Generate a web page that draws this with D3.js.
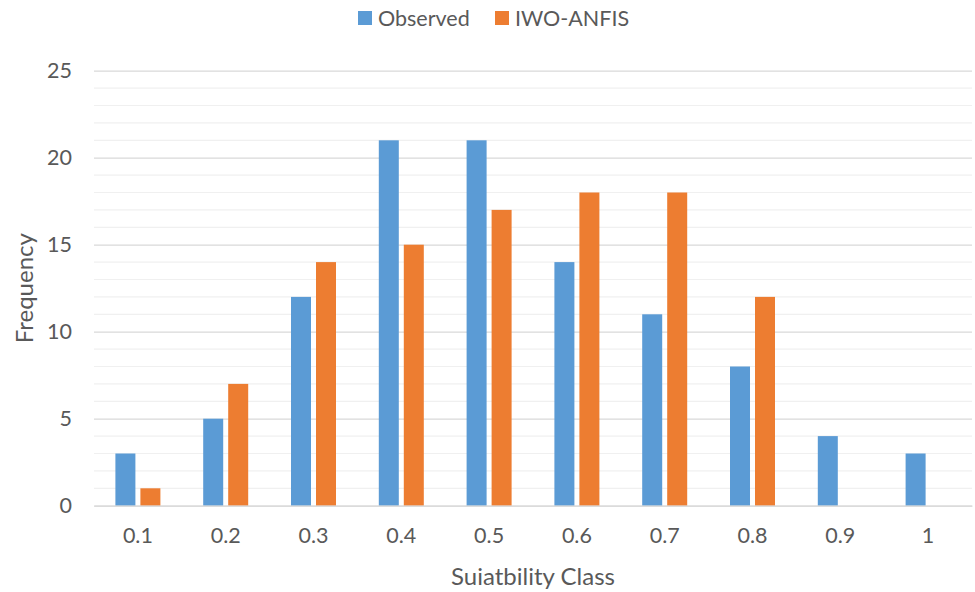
<!DOCTYPE html>
<html>
<head>
<meta charset="utf-8">
<script src="https://cdn.jsdelivr.net/npm/d3@7"></script>
<style>
  body { margin: 0; background: #fff; }
  text { font-family: Lato, "Open Sans", sans-serif; fill: #595959; }
</style>
</head>
<body>
<script>
// chart data
var categories = ["0.1", "0.2", "0.3", "0.4", "0.5", "0.6", "0.7", "0.8", "0.9", "1"];
var seriesNames = ["Observed", "IWO-ANFIS"];
var observed = [3, 5, 12, 21, 21, 14, 11, 8, 4, 3];
var iwoAnfis = [1, 7, 14, 15, 17, 18, 18, 12, 0, 0];
var yTicks = [0, 5, 10, 15, 20, 25];
var colors = ["#5b9bd5", "#ed7d31"];

var w = 975, h = 592;
var plotLeft = 94, plotRight = 972, plotTop = 70.7, plotBottom = 505.7;

var svg = d3.select("body").append("svg")
    .attr("width", w)
    .attr("height", h);

var xScale = d3.scaleBand()
    .domain(categories)
    .range([plotLeft, plotRight]);

var groupW = 45;
var xInner = d3.scaleBand()
    .domain(seriesNames)
    .range([0, groupW])
    .paddingInner(0.2);

var yScale = d3.scaleLinear()
    .domain([0, 25])
    .range([plotBottom, plotTop]);

// minor gridlines
svg.append("g").selectAll("line")
    .data(d3.range(0, 26).filter(function(d) { return d % 5 !== 0; }))
    .enter().append("line")
    .attr("x1", plotLeft).attr("x2", plotRight)
    .attr("y1", function(d) { return yScale(d); })
    .attr("y2", function(d) { return yScale(d); })
    .attr("stroke", "#f0f0f0")
    .attr("stroke-width", 1.2);

// major gridlines
var yAxis = d3.axisLeft(yScale)
    .tickValues(yTicks)
    .tickSize(-(plotRight - plotLeft))
    .tickPadding(22);

svg.append("g")
    .attr("transform", "translate(" + plotLeft + ",0)")
    .call(yAxis)
    .call(function(g) {
        g.select(".domain").remove();
        g.selectAll(".tick line").attr("stroke", "#d9d9d9").attr("stroke-width", 1.3);
        g.selectAll(".tick text").style("font-size", "21.5px").attr("fill", "#595959");
    });

// bars
var data = categories.map(function(c, i) {
    return { cat: c, values: [
        { name: seriesNames[0], v: observed[i] },
        { name: seriesNames[1], v: iwoAnfis[i] }
    ] };
});

var groups = svg.append("g").selectAll("g")
    .data(data)
    .enter().append("g")
    .attr("transform", function(d) {
        return "translate(" + (xScale(d.cat) + (xScale.bandwidth() - groupW) / 2) + ",0)";
    });

groups.selectAll("rect")
    .data(function(d) { return d.values.filter(function(s) { return s.v > 0; }); })
    .enter().append("rect")
    .attr("x", function(d) { return xInner(d.name); })
    .attr("width", xInner.bandwidth())
    .attr("y", function(d) { return yScale(d.v); })
    .attr("height", function(d) { return yScale(0) - yScale(d.v); })
    .attr("fill", function(d) { return colors[seriesNames.indexOf(d.name)]; });

// x axis
var xAxis = d3.axisBottom(xScale).tickSize(0).tickPadding(22);
svg.append("g")
    .attr("transform", "translate(0," + plotBottom + ")")
    .call(xAxis)
    .call(function(g) {
        g.select(".domain").attr("stroke", "#d9d9d9").attr("stroke-width", 1.3);
        g.selectAll(".tick text").style("font-size", "21.5px").attr("fill", "#595959");
    });

// axis titles
svg.append("text")
    .attr("x", (plotLeft + plotRight) / 2)
    .attr("y", 585)
    .attr("text-anchor", "middle")
    .style("font-size", "24px")
    .text("Suiatbility Class");

svg.append("text")
    .attr("transform", "translate(33," + ((plotTop + plotBottom) / 2) + ") rotate(-90)")
    .attr("text-anchor", "middle")
    .style("font-size", "24px")
    .text("Frequency");

// legend
var legendX = [358, 495];
var legend = svg.append("g").selectAll("g")
    .data(seriesNames)
    .enter().append("g")
    .attr("transform", function(d, i) { return "translate(" + legendX[i] + ",11)"; });

legend.append("rect")
    .attr("width", 14).attr("height", 14)
    .attr("fill", function(d, i) { return colors[i]; });

legend.append("text")
    .attr("x", 20).attr("y", 14.5)
    .style("font-size", "21.5px")
    .text(function(d) { return d; });
</script>
</body>
</html>
